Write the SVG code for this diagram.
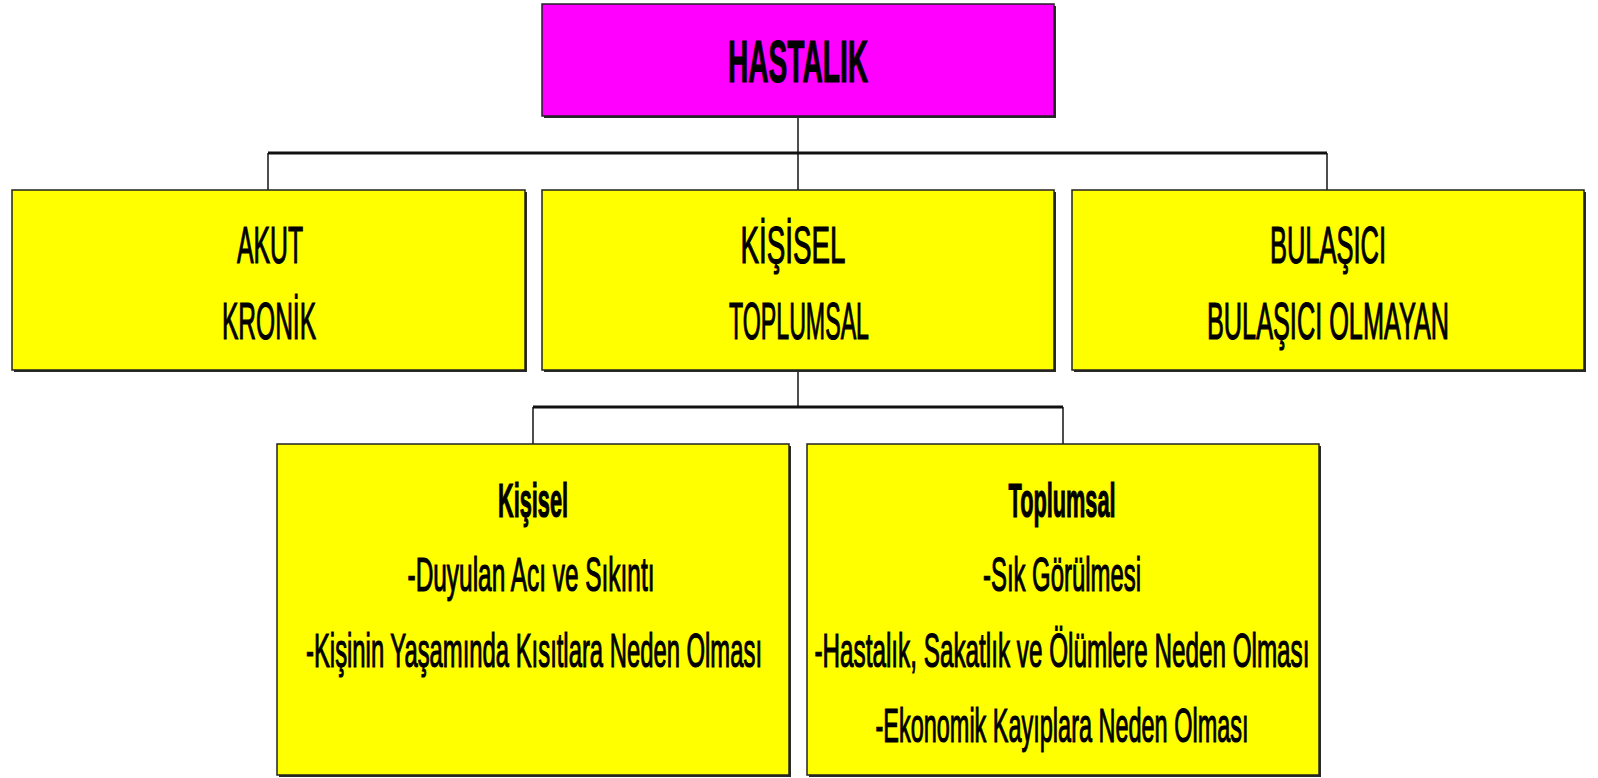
<svg xmlns="http://www.w3.org/2000/svg" width="1598" height="778" viewBox="0 0 1598 778">
<style>
.sh{fill:#2a2a2a}
.bx{stroke:#222;stroke-width:1.5}
.y{fill:#ffff00}
.m{fill:#ff00ff}
text{font-family:"Liberation Sans",Arial,sans-serif;fill:#000;text-anchor:middle;stroke:#000;stroke-width:1.2}
.t1{font-size:60px;font-weight:bold}
.t2{font-size:52px}
.t3{font-size:48px}
.b{font-weight:bold}
.c{stroke:#222;fill:none;stroke-width:1.6}
.h{stroke:#111;fill:none;stroke-width:3}
</style>
<rect width="1598" height="778" fill="#fff"/>
<g id="connectors">
<path class="c" d="M798 116V190M268 153V190M1327 153V190"/>
<path class="h" d="M268 153H1327"/>
<path class="c" d="M798 370V407M533 407V444M1063 407V444"/>
<path class="h" d="M533 407H1063"/>
</g>
<g id="hastalik">
<rect class="sh" x="544" y="6" width="512" height="112"/>
<rect class="bx m" x="542" y="4" width="512" height="112"/>
<text class="t1" transform="translate(798 82) scale(0.45 1)" textLength="311" lengthAdjust="spacingAndGlyphs">HASTALIK</text>
</g>
<g id="akut-kronik">
<rect class="sh" x="14" y="192" width="513" height="180"/>
<rect class="bx y" x="12" y="190" width="513" height="180"/>
<text class="t2" transform="translate(270 263) scale(0.45 1)" textLength="147" lengthAdjust="spacingAndGlyphs">AKUT</text>
<text class="t2" transform="translate(269 339) scale(0.45 1)" textLength="209" lengthAdjust="spacingAndGlyphs">KRONİK</text>
</g>
<g id="kisisel-toplumsal">
<rect class="sh" x="544" y="192" width="512" height="180"/>
<rect class="bx y" x="542" y="190" width="512" height="180"/>
<text class="t2" transform="translate(793 263) scale(0.45 1)" textLength="233" lengthAdjust="spacingAndGlyphs">KİŞİSEL</text>
<text class="t2" transform="translate(799 339) scale(0.45 1)" textLength="311" lengthAdjust="spacingAndGlyphs">TOPLUMSAL</text>
</g>
<g id="bulasici">
<rect class="sh" x="1074" y="192" width="512" height="180"/>
<rect class="bx y" x="1072" y="190" width="512" height="180"/>
<text class="t2" transform="translate(1328 263) scale(0.45 1)" textLength="258" lengthAdjust="spacingAndGlyphs">BULAŞICI</text>
<text class="t2" transform="translate(1328 339) scale(0.45 1)" textLength="538" lengthAdjust="spacingAndGlyphs">BULAŞICI OLMAYAN</text>
</g>
<g id="kisisel">
<rect class="sh" x="279" y="446" width="512" height="331"/>
<rect class="bx y" x="277" y="444" width="512" height="331"/>
<text class="t3 b" transform="translate(533 517) scale(0.5 1)" textLength="140" lengthAdjust="spacingAndGlyphs">Kişisel</text>
<text class="t3" transform="translate(531 591) scale(0.5 1)" textLength="494" lengthAdjust="spacingAndGlyphs">-Duyulan Acı ve Sıkıntı</text>
<text class="t3" transform="translate(534 667) scale(0.5 1)" textLength="912" lengthAdjust="spacingAndGlyphs">-Kişinin Yaşamında Kısıtlara Neden Olması</text>
</g>
<g id="toplumsal">
<rect class="sh" x="809" y="446" width="512" height="331"/>
<rect class="bx y" x="807" y="444" width="512" height="331"/>
<text class="t3 b" transform="translate(1062 517) scale(0.5 1)" textLength="214" lengthAdjust="spacingAndGlyphs">Toplumsal</text>
<text class="t3" transform="translate(1062 591) scale(0.5 1)" textLength="316" lengthAdjust="spacingAndGlyphs">-Sık Görülmesi</text>
<text class="t3" transform="translate(1062 667) scale(0.5 1)" textLength="990" lengthAdjust="spacingAndGlyphs">-Hastalık, Sakatlık ve Ölümlere Neden Olması</text>
<text class="t3" transform="translate(1062 742) scale(0.5 1)" textLength="746" lengthAdjust="spacingAndGlyphs">-Ekonomik Kayıplara Neden Olması</text>
</g>
</svg>
